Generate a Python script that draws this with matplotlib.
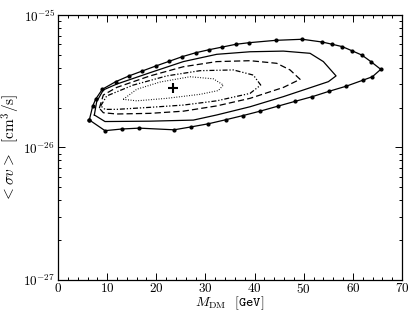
import matplotlib
matplotlib.use('Agg')
import matplotlib.pyplot as plt
from matplotlib.ticker import FixedLocator, LogLocator, NullFormatter
import numpy as np

plt.rcParams['mathtext.fontset'] = 'cm'
plt.rcParams['font.family'] = 'serif'
plt.rcParams['font.serif'] = ['DejaVu Serif']

# outer contour (with dots), M_DM [GeV] and <sigma v> [cm^3/s]
m_outer = [6.37, 7.06, 7.67, 9.01, 11.74, 14.45, 17.15, 19.88, 22.59, 25.29, 28.02,
           30.73, 33.43, 36.16, 38.87, 44.30, 49.71, 53.78, 55.82, 57.85, 59.77,
           61.80, 63.69, 65.67, 63.96, 62.13, 58.61, 55.21, 51.75, 48.23, 44.71,
           41.11, 37.59, 34.13, 30.59, 27.06, 23.61, 16.55, 13.09, 9.56, 6.37]
sv_outer = [1.614, 2.056, 2.32, 2.75, 3.14, 3.47, 3.78, 4.12, 4.47, 4.85, 5.19,
            5.47, 5.73, 6.01, 6.18, 6.44, 6.56, 6.25, 6.01, 5.77, 5.38,
            4.99, 4.44, 3.89, 3.42, 3.23, 2.90, 2.66, 2.42, 2.23, 2.05,
            1.88, 1.74, 1.62, 1.51, 1.43, 1.36, 1.40, 1.38, 1.34, 1.614]

# second contour (solid)
m_c2 = [7.39, 7.87, 9.22, 11.94, 18.72, 25.50, 32.29, 39.07, 45.85, 51.28, 53.99,
        56.57, 55.01, 45.85, 39.07, 32.29, 27.53, 18.72, 9.56, 7.39]
sv_c2 = [1.76, 2.22, 2.72, 3.01, 3.67, 4.45, 5.05, 5.28, 5.34, 5.14, 4.45,
         3.47, 3.14, 2.42, 2.03, 1.76, 1.61, 1.58, 1.57, 1.76]

# third contour (dashed)
m_c3 = [8.41, 9.22, 11.94, 18.72, 25.50, 32.29, 39.07, 44.50, 47.21, 49.25,
        45.85, 39.07, 32.29, 25.50, 18.72, 11.94, 9.22, 8.41]
sv_c3 = [1.98, 2.49, 2.84, 3.47, 4.07, 4.45, 4.52, 4.32, 3.85, 3.27,
         2.84, 2.35, 2.06, 1.88, 1.81, 1.79, 1.83, 1.98]

# fourth contour (dash-dot)
m_c4 = [8.69, 9.91, 15.32, 22.12, 28.90, 35.68, 39.74, 41.24, 39.07, 32.29,
        25.50, 18.72, 11.94, 9.56, 8.69]
sv_c4 = [2.06, 2.45, 2.96, 3.47, 3.80, 3.85, 3.52, 2.96, 2.56, 2.25,
         2.09, 2.01, 1.94, 1.94, 2.06]

# innermost contour (dotted)
m_c5 = [13.29, 16.01, 20.76, 26.86, 31.60, 33.64, 32.62, 28.90, 22.12, 16.01, 13.29]
sv_c5 = [2.31, 2.75, 3.12, 3.42, 3.30, 2.96, 2.69, 2.52, 2.35, 2.25, 2.31]

# best fit point
m_best = 23.47
sv_best = 2.80

xticks = [0, 10, 20, 30, 40, 50, 60, 70]
unit = 1e-26

fig = plt.figure(figsize=(4.15, 3.12), dpi=100)
ax = fig.add_axes([0.1398, 0.1026, 0.829, 0.8493])

ax.plot(m_outer, np.array(sv_outer) * unit, color='black', lw=0.9,
        marker='o', ms=2.0, mfc='black', mec='black')
ax.plot(m_c2, np.array(sv_c2) * unit, color='black', lw=0.9)
ax.plot(m_c3, np.array(sv_c3) * unit, color='black', lw=0.9, dashes=(5, 2.5))
ax.plot(m_c4, np.array(sv_c4) * unit, color='black', lw=0.9,
        dashes=(4, 1.5, 1, 1.5, 1, 1.5))
ax.plot(m_c5, np.array(sv_c5) * unit, color='black', lw=0.8, dashes=(0.8, 1.5))
ax.plot(m_best, sv_best * unit, marker='+', color='black', ms=7, mew=1.5)

ax.set_yscale('log')
ax.set_xlim(0, 70)
ax.set_ylim(1e-27, 1e-25)

ax.set_xticks(xticks)
ax.set_xticklabels([r'$\mathbf{%d}$' % t for t in xticks], fontsize=9.5)
ax.xaxis.set_minor_locator(FixedLocator(np.arange(0, 71, 2)))
ax.set_yticks([1e-27, 1e-26, 1e-25])
ax.set_yticklabels([r'$\mathbf{10^{-27}}$', r'$\mathbf{10^{-26}}$', r'$\mathbf{10^{-25}}$'],
                   fontsize=9.5)
ax.yaxis.set_minor_locator(LogLocator(base=10, subs=np.arange(2, 10)))
ax.yaxis.set_minor_formatter(NullFormatter())

ax.tick_params(which='both', direction='in', top=True, right=True, width=0.7)
ax.tick_params(which='major', length=5, pad=2)
ax.tick_params(axis='x', which='major', pad=1.5)
ax.tick_params(which='minor', length=2.5)
for s in ax.spines.values():
    s.set_linewidth(0.9)

ax.set_xlabel(r'$M_{\rm DM}$  ' + r'$\mathtt{[GeV]}$', fontsize=10)
ax.xaxis.set_label_coords(0.5, -0.053)
ax.set_ylabel(r'$<\sigma v>\ \ [\mathrm{cm}^3/\mathrm{s}]$', fontsize=11)
ax.yaxis.set_label_coords(-0.105, 0.5)

fig.savefig('out.png', dpi=100)
